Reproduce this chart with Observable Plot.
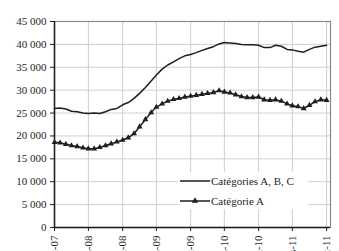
<!DOCTYPE html>
<html>
<head>
<meta charset="utf-8">
<script src="https://cdn.jsdelivr.net/npm/d3@7"></script>
<script src="https://cdn.jsdelivr.net/npm/@observablehq/plot@0.6"></script>
<style>
  body { margin: 0; background: #fff; }
  #wrap { position: relative; width: 339px; height: 251px; overflow: hidden; }
  #wrap, #wrap svg, #wrap text { font-family: "Liberation Serif", "DejaVu Serif", serif !important; }
  #legend { position: absolute; left: 178px; top: 172px; width: 130px; height: 37px; background: #fff; }
</style>
</head>
<body>
<div id="wrap"><div id="chart"></div><div id="legend"></div></div>
<script>
// Monthly series, Sept 2007 .. Sept 2011 (thousands)
const startMonth = "2007-09-01";
const seriesNames = ["Catégories A, B, C", "Catégorie A"];
const valuesABC = [26.0, 26.1, 25.9, 25.4, 25.3, 25.0, 24.9, 25.0, 24.9, 25.3, 25.8, 26.0,
  26.8, 27.3, 28.2, 29.3, 30.6, 32.0, 33.3, 34.6, 35.5, 36.2, 36.9, 37.5,
  37.8, 38.2, 38.7, 39.1, 39.5, 40.1, 40.4, 40.3, 40.2, 40.0, 39.9, 39.9,
  39.8, 39.3, 39.3, 39.8, 39.6, 38.9, 38.8, 38.5, 38.3, 38.9, 39.4, 39.6, 39.8];
const valuesA = [18.6, 18.5, 18.2, 17.9, 17.7, 17.4, 17.2, 17.2, 17.5, 17.9, 18.3, 18.7,
  19.1, 19.6, 20.5, 22.0, 23.6, 25.1, 26.3, 27.0, 27.6, 28.0, 28.2, 28.5,
  28.7, 28.9, 29.1, 29.3, 29.5, 29.9, 29.6, 29.4, 29.0, 28.6, 28.4, 28.4,
  28.5, 27.9, 27.8, 27.9, 27.6, 27.0, 26.6, 26.4, 26.0, 26.7, 27.5, 27.9, 27.8];
const xTickDates = ["2007-09-01", "2008-03-01", "2008-09-01", "2009-03-01", "2009-09-01",
  "2010-03-01", "2010-09-01", "2011-03-01", "2011-09-01"];
const xTickLabels = ["sept-07", "mars-08", "sept-08", "mars-09", "sept-09", "mars-10", "sept-10", "mars-11", "sept-11"];
const yTicks = [0, 5000, 10000, 15000, 20000, 25000, 30000, 35000, 40000, 45000];

const start = new Date(startMonth + "T00:00:00Z");
const months = valuesABC.map((_, i) => d3.utcMonth.offset(start, i));
const dataABC = months.map((d, i) => ({date: d, value: valuesABC[i] * 1000}));
const dataA = months.map((d, i) => ({date: d, value: valuesA[i] * 1000}));
const tickDates = xTickDates.map(s => new Date(s + "T00:00:00Z"));
const labelOf = new Map(tickDates.map((d, i) => [+d, xTickLabels[i]]));
const fmtY = d => d === 0 ? "0" : d3.format(",")(d).replace(/,/g, " ");

const ink = "#1e1e1e";
const chart = Plot.plot({
  width: 339,
  height: 251,
  marginLeft: 54,
  marginRight: 9,
  marginTop: 21,
  marginBottom: 24,
  style: {fontFamily: "Liberation Serif, serif", fontSize: "11px", color: ink, background: "#fff"},
  x: {type: "utc", domain: [start, new Date("2011-09-22T00:00:00Z")]},
  y: {domain: [0, 45000]},
  marks: [
    Plot.gridY(yTicks, {stroke: "#cfcfcf", strokeOpacity: 1}),
    Plot.gridX(tickDates, {stroke: "#cfcfcf", strokeOpacity: 1}),
    Plot.frame({stroke: "#8a8a8a", strokeWidth: 1.2}),
    Plot.axisY({ticks: yTicks, tickFormat: fmtY, tickSize: 4, tickPadding: 4, stroke: ink, fill: ink, label: null}),
    Plot.axisX({ticks: tickDates, tickFormat: d => labelOf.get(+d), tickSize: 4, tickPadding: 4, tickRotate: -90, textAnchor: "end", stroke: ink, fill: ink, label: null}),
    Plot.ruleX([start], {stroke: ink, strokeWidth: 1.5}),
    Plot.ruleY([0], {stroke: ink, strokeWidth: 1.5}),
    Plot.line(dataABC, {x: "date", y: "value", stroke: ink, strokeWidth: 1.5}),
    Plot.line(dataA, {x: "date", y: "value", stroke: ink, strokeWidth: 1.5}),
    Plot.dot(dataA, {x: "date", y: "value", symbol: "triangle", r: 2.2, fill: ink, stroke: "none"})
  ]
});
document.getElementById("chart").appendChild(chart);

// Legend
const legend = d3.select("#legend").append("svg").attr("width", 130).attr("height", 37)
  .style("font-size", "11px");
seriesNames.forEach((name, i) => {
  const y = 9 + i * 20;
  legend.append("line").attr("x1", 2).attr("x2", 32).attr("y1", y).attr("y2", y)
    .attr("stroke", ink).attr("stroke-width", 1.5);
  if (i === 1) {
    legend.append("path").attr("d", d3.symbol(d3.symbolTriangle, 18)()).attr("transform", `translate(17,${y})`).attr("fill", ink);
  }
  legend.append("text").attr("x", 33).attr("y", y + 4).attr("fill", ink).text(name);
});
</script>
</body>
</html>
